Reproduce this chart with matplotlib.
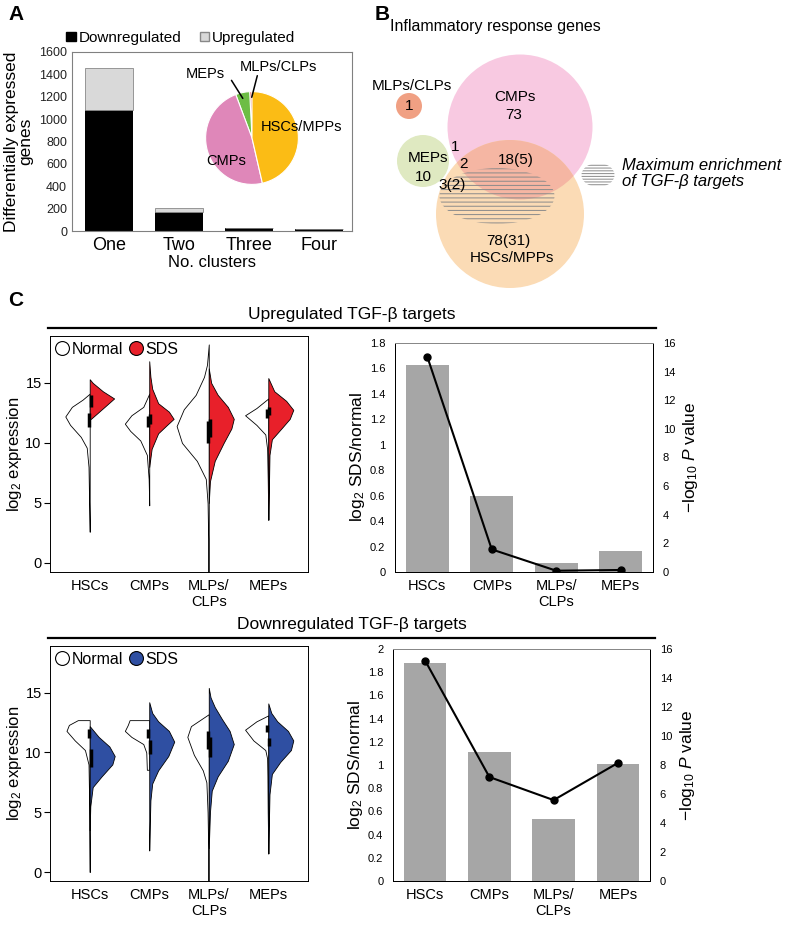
import numpy as np
import matplotlib
matplotlib.use('Agg')
import matplotlib.pyplot as plt
from matplotlib.patches import Circle, Ellipse, Patch
from matplotlib.lines import Line2D

plt.rcParams['font.family'] = ['Liberation Sans', 'DejaVu Sans']
plt.rcParams['mathtext.fontset'] = 'custom'
plt.rcParams['mathtext.rm'] = 'Liberation Sans'
plt.rcParams['mathtext.it'] = 'Liberation Sans:italic'
plt.rcParams['hatch.linewidth'] = 0.7

# ---- data ----
# panel A
clusters = ['One', 'Two', 'Three', 'Four']
down_counts = [1078, 172, 30, 15]
up_counts = [380, 30, 0, 0]

pie_labels = ['MLPs/CLPs', 'MEPs', 'CMPs', 'HSCs/MPPs']
pie_share = [0.8, 4.9, 47.9, 46.4]
pie_colors = ['#e0302b', '#6dbd45', '#df87b9', '#fbbc15']

# panel B (venn layout, pixel units)
venn_names = ['CMPs', 'HSCs/MPPs', 'MEPs', 'MLPs/CLPs']
venn_xy = [(520, 127), (510, 214), (423, 161), (409, 106)]
venn_r = [72.5, 74, 26, 13]
venn_colors = ['#f8c9e1', '#fbdbb5', '#dfe9c1', '#f0a083']
venn_text = ['MLPs/CLPs', '1', 'CMPs', '73', '1', 'MEPs', '10', '2', '18(5)', '3(2)', '78(31)', 'HSCs/MPPs']
venn_text_xy = [(412, 86), (409, 106), (515, 97), (514, 115), (455, 147), (428, 158), (423, 177),
                (463, 164), (516, 160), (452, 185), (508, 241), (512, 258)]

# panel C
cell_types = ['HSCs', 'CMPs', 'MLPs/\nCLPs', 'MEPs']
up_fc = [1.63, 0.60, 0.07, 0.167]
up_p = [15.05, 1.58, 0.09, 0.14]
down_fc = [1.88, 1.11, 0.533, 1.01]
down_p = [15.2, 7.17, 5.58, 8.14]

# violin half profiles (y, half width)
up_norm_y = [[2.6, 5, 8, 9.6, 10.5, 11.5, 12.2, 13, 13.6, 14.1],
             [4.8, 7, 9, 10.2, 11, 11.6, 12.3, 13, 14.1],
             [-0.8, 2, 5, 7, 8.5, 10, 11.4, 12.8, 14, 15.5, 16.5, 18.2],
             [3.6, 7, 9.5, 10.7, 11.5, 12.3, 12.9, 13.7]]
up_norm_w = [[0, 0.01, 0.02, 0.05, 0.15, 0.33, 0.41, 0.3, 0.12, 0],
             [0, 0.01, 0.04, 0.15, 0.32, 0.41, 0.3, 0.1, 0],
             [0.01, 0.01, 0.02, 0.05, 0.2, 0.45, 0.54, 0.42, 0.22, 0.08, 0.03, 0],
             [0, 0.01, 0.02, 0.05, 0.2, 0.39, 0.2, 0]]
up_sds_y = [[12.0, 13.0, 13.7, 14.3, 15.0, 15.3],
            [8.0, 9.5, 10.8, 11.5, 12.0, 12.6, 13.3, 14.5, 15.5, 16.8],
            [5, 6.8, 8.5, 10, 11.2, 12.0, 13, 14, 15, 16.2],
            [3.6, 6, 9, 10.3, 11.2, 12.0, 12.75, 13.5, 14.3, 15.4]]
up_sds_w = [[0.02, 0.25, 0.41, 0.22, 0.05, 0],
            [0, 0.04, 0.15, 0.3, 0.41, 0.33, 0.15, 0.05, 0.02, 0],
            [0, 0.02, 0.1, 0.25, 0.38, 0.42, 0.32, 0.15, 0.04, 0],
            [0, 0.01, 0.02, 0.06, 0.22, 0.36, 0.42, 0.3, 0.1, 0]]
up_norm_box = [(11.3, 12.5), (11.3, 12.2), (10.0, 11.8), (12.1, 12.8)]
up_sds_box = [(12.97, 13.97), (11.6, 12.4), (10.5, 12.0), (12.3, 13.0)]

down_norm_y = [[0, 3, 6, 9, 10.2, 11.0, 11.8, 12.3, 12.7, 12.7],
               [8.55, 8.55, 10.0, 10.7, 11.3, 11.8, 12.3, 12.7, 12.7],
               [-0.8, 2, 5, 7.5, 8.5, 9.8, 11.3, 12.2, 12.8, 13.2],
               [1.55, 5, 8, 9.5, 10.2, 11.0, 11.9, 12.6, 13.1]]
down_norm_w = [[0, 0.005, 0.01, 0.02, 0.08, 0.25, 0.39, 0.35, 0.2, 0],
               [0, 0.04, 0.05, 0.1, 0.3, 0.41, 0.36, 0.33, 0],
               [0.01, 0.01, 0.02, 0.04, 0.1, 0.25, 0.36, 0.3, 0.12, 0],
               [0, 0.01, 0.015, 0.02, 0.05, 0.25, 0.39, 0.2, 0]]
down_sds_y = [[3.5, 5.5, 7.1, 8.0, 9.0, 9.7, 10.5, 11.3, 12.2],
              [1.8, 4, 6, 7.4, 8.5, 9.7, 10.9, 11.8, 12.6, 13.3, 14.2],
              [2, 5, 6.8, 8.0, 9.3, 10.7, 11.8, 12.8, 13.8, 14.6, 15.4],
              [1.55, 4, 6.5, 8.2, 9.2, 10.2, 11.0, 11.8, 12.6, 13.3, 14.1]]
down_sds_w = [[0, 0.01, 0.05, 0.2, 0.38, 0.42, 0.33, 0.15, 0],
              [0, 0.01, 0.02, 0.05, 0.15, 0.32, 0.42, 0.33, 0.15, 0.05, 0],
              [0, 0.02, 0.05, 0.15, 0.32, 0.42, 0.35, 0.22, 0.1, 0.03, 0],
              [0, 0.01, 0.02, 0.06, 0.2, 0.38, 0.42, 0.33, 0.15, 0.05, 0]]
down_norm_box = [(11.2, 12.0), (11.2, 12.0), (10.3, 11.8), (11.7, 12.3)]
down_sds_box = [(8.8, 10.3), (9.9, 11.0), (9.6, 11.3), (10.5, 11.2)]

W, H = 787, 926
fig = plt.figure(figsize=(W / 100, H / 100), dpi=100)


def px_axes(x0, y0, x1, y1):
    return fig.add_axes([x0 / W, 1 - y1 / H, (x1 - x0) / W, (y1 - y0) / H])


def fxy(x, y):
    return (x / W, 1 - y / H)


# panel labels
for lab, x, y in [('A', 8, 14), ('B', 375, 14), ('C', 8, 300)]:
    fig.text(*fxy(x, y), lab, fontsize=15, fontweight='bold', va='center')

# ---------- panel A ----------
ax = px_axes(72, 52, 352, 231)
xpos = np.arange(len(clusters))
ax.bar(xpos, down_counts, width=0.69, color='black')
ax.bar(xpos, up_counts, bottom=down_counts, width=0.69, color='#d9d9d9', edgecolor='#888888', lw=0.6)
ax.set_xlim(-0.53, 3.47)
ax.set_ylim(0, 1600)
ax.set_yticks(range(0, 1601, 200))
ax.tick_params(axis='y', length=0, labelsize=9, colors='#222222')
ax.tick_params(axis='x', length=0, labelsize=13, pad=4)
ax.set_xticks(xpos, clusters)
for s in ax.spines.values():
    s.set_color('#808080')
ax.set_xlabel('No. clusters', fontsize=12, labelpad=1)
ax.set_ylabel('Differentially expressed\ngenes', fontsize=12.5, linespacing=0.95, labelpad=4)
ax.legend(handles=[Patch(fc='black', ec='black'), Patch(fc='#d9d9d9', ec='#888888')],
          labels=['Downregulated', 'Upregulated'], loc='lower left', bbox_to_anchor=(-0.02, 1.04),
          ncol=2, frameon=False, handlelength=0.6, handleheight=0.6, handletextpad=0.2,
          columnspacing=1.2, fontsize=11, borderpad=0, borderaxespad=0)

pax = px_axes(194, 80, 310, 196)
wedges, _ = pax.pie(pie_share, colors=pie_colors, startangle=90, counterclock=True,
                    wedgeprops=dict(edgecolor='white', linewidth=0.8))
pax.set_aspect('equal')
fig.text(*fxy(302, 127), 'HSCs/MPPs', fontsize=10.5, ha='center', va='center')
fig.text(*fxy(226, 161), 'CMPs', fontsize=10.5, ha='center', va='center')
for w, txt, tpos, apos in [(wedges[1], 'MEPs', (205, 74), (230, 78)),
                           (wedges[0], 'MLPs/CLPs', (278, 67), (258, 73))]:
    ang = np.deg2rad((w.theta1 + w.theta2) / 2)
    pax.annotate('', xy=(0.82 * np.cos(ang), 0.82 * np.sin(ang)), xytext=fxy(*apos),
                 textcoords='figure fraction', arrowprops=dict(arrowstyle='-', lw=1.1, color='black'))
    fig.text(*fxy(*tpos), txt, fontsize=10.5, ha='center', va='center')

# ---------- panel B ----------
bax = px_axes(360, 40, 787, 320)
bax.set_xlim(360, 787)
bax.set_ylim(320, 40)
bax.set_aspect('equal')
bax.axis('off')
circles = []
for xy, r, c in zip(venn_xy, venn_r, venn_colors):
    p = Circle(xy, r, facecolor=c, edgecolor='none')
    bax.add_patch(p)
    circles.append(p)
# overlaps
for a, b, c in [(0, 1, '#f5b6a3'), (2, 1, '#eedaa0'), (2, 0, '#dccab8')]:
    p = Circle(venn_xy[a], venn_r[a], facecolor=c, edgecolor='none')
    bax.add_patch(p)
    p.set_clip_path(circles[b])
hatch = Ellipse((497, 196), 115, 56, facecolor='none', edgecolor='#8a8a8a', lw=0, hatch='----')
bax.add_patch(hatch)
bax.add_patch(Ellipse((598, 175), 33, 24, facecolor='none', edgecolor='#8a8a8a', lw=0, hatch='------'))
for t, (x, y) in zip(venn_text, venn_text_xy):
    bax.text(x, y, t, fontsize=11, ha='center', va='center')
fig.text(*fxy(390, 27), 'Inflammatory response genes', fontsize=11.5, va='center')
fig.text(*fxy(622, 165), 'Maximum enrichment', fontsize=12, style='italic', va='center')
fig.text(*fxy(622, 182), 'of TGF-β targets', fontsize=12, style='italic', va='center')


# ---------- panel C ----------
def violin_panel(rect, norm_y, norm_w, sds_y, sds_w, norm_box, sds_box, color):
    ax = px_axes(*rect)
    for i in range(len(cell_types)):
        pos = i + 1
        ny, nw = np.array(norm_y[i]), np.array(norm_w[i])
        sy, sw = np.array(sds_y[i]), np.array(sds_w[i])
        ax.fill_betweenx(ny, pos - nw, pos, facecolor='white', edgecolor='black', lw=0.6)
        ax.fill_betweenx(sy, pos, pos + sw, facecolor=color, edgecolor='black', lw=0.6)
        ax.vlines(pos - 0.02, *norm_box[i], color='black', lw=2.5)
        ax.vlines(pos + 0.02, *sds_box[i], color='black', lw=2.5)
    ax.set_xlim(0.333, 4.667)
    ax.set_ylim(-0.75, 18.9)
    ax.set_yticks([0, 5, 10, 15])
    ax.set_xticks(range(1, 5), cell_types)
    ax.tick_params(axis='x', length=0, labelsize=10.5, pad=5)
    ax.tick_params(axis='y', length=4, labelsize=10.5, pad=2)
    for s in ax.spines.values():
        s.set_linewidth(0.7)
    ax.set_ylabel('log$_2$ expression', fontsize=12, labelpad=1)
    hs = [Line2D([], [], ls='none', marker='o', ms=10, mfc='white', mec='black', mew=0.8),
          Line2D([], [], ls='none', marker='o', ms=10, mfc=color, mec='black', mew=0.8)]
    ax.legend(hs, ['Normal', 'SDS'], loc='upper left', ncol=2, frameon=False, fontsize=11.5,
              handlelength=0.8, handletextpad=0.2, columnspacing=0.4, borderpad=0.25, borderaxespad=0.1)


def bar_panel(rect, fc, pv, ytop):
    ax = px_axes(*rect)
    xpos = np.arange(len(cell_types))
    ax.bar(xpos, fc, width=0.66, color='#a6a6a6')
    ax.set_xlim(-0.5, 3.5)
    ax.set_ylim(0, ytop)
    ticks = np.round(np.arange(0, ytop + 0.01, 0.2), 1)
    ax.set_yticks(ticks, [f'{t:g}' for t in ticks])
    ax.set_xticks(xpos, cell_types)
    ax.tick_params(axis='x', length=0, labelsize=10.5, pad=5)
    ax.tick_params(axis='y', length=0, labelsize=8, pad=7)
    ax.set_ylabel('log$_2$ SDS/normal', fontsize=12.5, labelpad=2)
    ax2 = ax.twinx()
    ax2.plot(xpos, pv, color='black', lw=1.5, marker='o', ms=5)
    ax2.set_ylim(0, 16)
    ax2.set_yticks(range(0, 17, 2))
    ax2.tick_params(axis='y', length=0, labelsize=8, pad=7)
    ax2.set_ylabel('\u2212log$_{10}$ $P$ value', fontsize=12.5, labelpad=4)
    for a in (ax, ax2):
        for s in a.spines.values():
            s.set_linewidth(0.7)
    ax.spines['top'].set_color('#888888')
    ax2.spines['top'].set_color('#888888')


fig.text(*fxy(352, 314), 'Upregulated TGF-β targets', fontsize=12.5, ha='center', va='center')
fig.add_artist(Line2D([48 / W, 656 / W], [1 - 328 / H] * 2, color='black', lw=1.6))
violin_panel((50, 336, 308, 572), up_norm_y, up_norm_w, up_sds_y, up_sds_w, up_norm_box, up_sds_box, '#e8202a')
bar_panel((395, 343, 653, 572), up_fc, up_p, 1.8)

fig.text(*fxy(352, 625), 'Downregulated TGF-β targets', fontsize=12.5, ha='center', va='center')
fig.add_artist(Line2D([48 / W, 655 / W], [1 - 638 / H] * 2, color='black', lw=1.6))
violin_panel((50, 646, 308, 881), down_norm_y, down_norm_w, down_sds_y, down_sds_w, down_norm_box, down_sds_box, '#2f4fa2')
bar_panel((393, 649, 650, 881), down_fc, down_p, 2.0)

fig.savefig('out.png', dpi=100)
